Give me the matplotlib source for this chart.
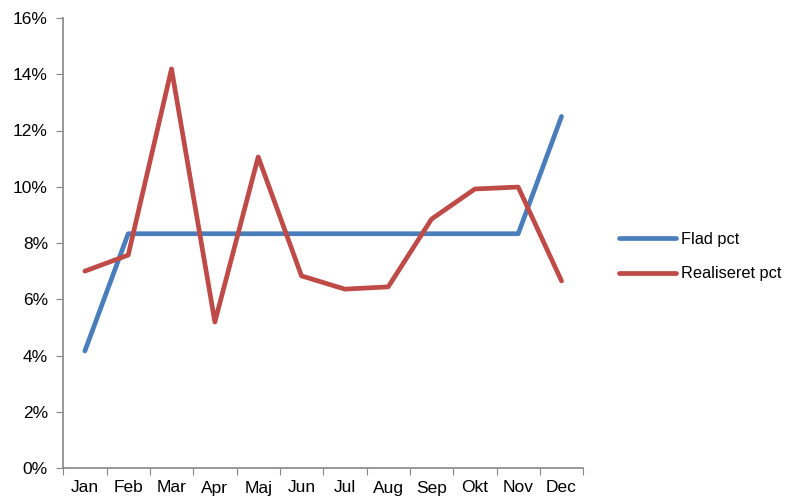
import matplotlib.pyplot as plt
from matplotlib.ticker import PercentFormatter, FixedLocator, NullFormatter
import numpy as np

months = ["Jan", "Feb", "Mar", "Apr", "Maj", "Jun", "Jul", "Aug", "Sep", "Okt", "Nov", "Dec"]
flad_pct = [4.16, 8.33, 8.33, 8.33, 8.33, 8.33, 8.33, 8.33, 8.33, 8.33, 8.33, 12.5]
realiseret_pct = [7.0, 7.57, 14.19, 5.19, 11.06, 6.83, 6.36, 6.44, 8.85, 9.92, 9.99, 6.65]

plt.rcParams["font.family"] = ["Liberation Sans", "DejaVu Sans"]

fig = plt.figure(figsize=(8, 5), dpi=100)
ax = fig.add_axes([0.079, 0.064, 0.65, 0.9])

x = np.arange(len(months))
ax.plot(x, flad_pct, color="#4A7EBB", lw=3.4, label="Flad pct", solid_capstyle="round")
ax.plot(x, realiseret_pct, color="#BE4B48", lw=3.4, label="Realiseret pct", solid_capstyle="round")

ax.set_xlim(-0.5, len(months) - 0.5)
ax.set_ylim(0, 16)
ax.set_yticks(np.arange(0, 17, 2))
ax.yaxis.set_major_formatter(PercentFormatter(decimals=0))

# category labels centred, tick marks on the boundaries
ax.xaxis.set_major_locator(FixedLocator(np.arange(-0.5, len(months), 1)))
ax.xaxis.set_major_formatter(NullFormatter())
ax.xaxis.set_minor_locator(FixedLocator(x))
ax.set_xticklabels(months, minor=True)
ax.tick_params(axis="both", which="both", labelsize=12.5)
ax.tick_params(axis="x", which="minor", length=0, pad=9)
ax.tick_params(axis="x", which="major", length=5, color="#868686")
ax.tick_params(axis="y", length=5, color="#868686", pad=6)

for side in ("top", "right"):
    ax.spines[side].set_visible(False)
for side in ("left", "bottom"):
    ax.spines[side].set_color("#868686")
    ax.spines[side].set_linewidth(1.2)

ax.legend(loc="center left", bbox_to_anchor=(1.04, 0.47), frameon=False,
          fontsize=11.8, handlelength=3.5, handletextpad=0.3, labelspacing=1.2)

fig.savefig("out.png", dpi=100)
